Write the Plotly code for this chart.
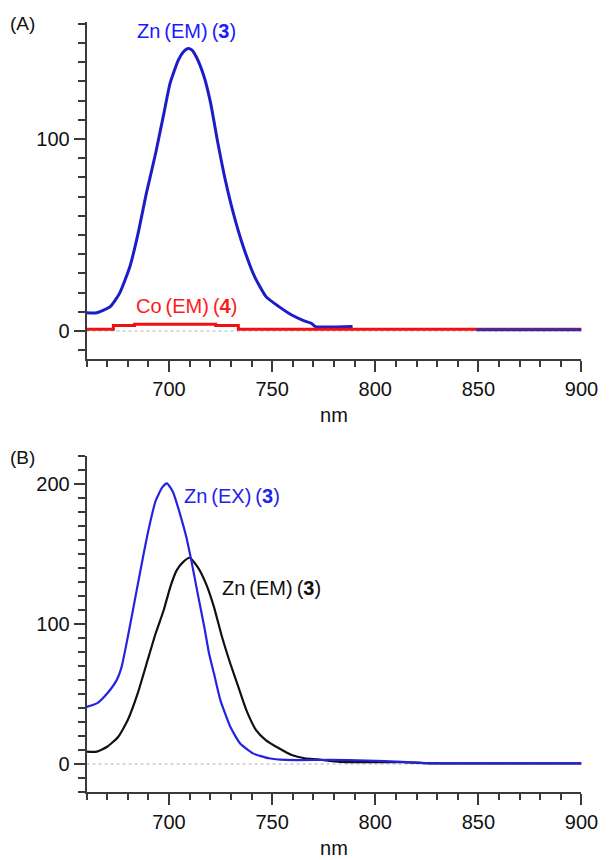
import plotly.graph_objects as go

# ---------------- data ----------------
# Panel (A)
a_zn_em_nm = [660, 665, 671.5, 676, 681, 685, 689, 693.5, 697.5, 700.5, 704.5, 707, 709.2, 711,
              713.2, 717, 720.2, 723.4, 727.3, 731.2, 736, 741.5, 747, 753.3, 759.5, 765, 769,
              771, 789]
a_zn_em_val = [9.5, 9.5, 12.7, 19.6, 33.5, 50.9, 71.7, 92.6, 113.4, 129, 141.1, 145.5, 147.2, 146.5,
               142.9, 132.5, 118.6, 99.5, 78.6, 61.3, 43.9, 28.3, 17.9, 12.7, 8.3, 5.5, 4,
               2.3, 2.3]
a_zn_tail_nm = [849, 900]
a_zn_tail_val = [0.6, 0.6]

a_co_em_nm = [660, 673, 683.3, 722.6, 733.6, 900]
a_co_em_val = [0.9, 2.8, 3.5, 2.8, 0.9, 0.9]

# Panel (B)
b_zn_ex_nm = [660, 665, 670, 674.6, 677, 680, 684, 688, 690.3, 693.5, 696.7, 699, 702, 705.3,
              708.4, 710.8, 713.9, 717.1, 719.4, 721.8, 724.9, 729.7, 734.4, 740.7, 748.5,
              756.4, 778, 796, 813, 826, 900]
b_zn_ex_val = [40.8, 43.3, 50.4, 59.9, 69.4, 90.7, 121.7, 152.5, 169, 188, 197.6, 200.5, 194, 178.7,
               162, 145.4, 121.7, 97.9, 78.9, 64.6, 45.6, 26.6, 14.8, 7.6, 4.1,
               2.9, 2.9, 2.5, 1.5, 0.6, 0.5]

b_zn_em_nm = [660, 665, 670, 675.4, 680, 684.8, 689.6, 693.5, 697.4, 700.6, 703.7, 706.8, 710,
              713.9, 717.9, 721.8, 725.7, 729.7, 733.6, 737.5, 742.2, 746.9, 753.3, 759.5,
              765.8, 772, 783, 813, 826, 900]
b_zn_em_val = [8.8, 8.8, 12.3, 19.5, 31.4, 50.4, 74.1, 93.2, 109.8, 126.4, 138.3, 144.2, 147.3,
               140.6, 128.8, 112.1, 90.7, 71.8, 55.1, 38.5, 24.2, 17.1, 11.2, 6.4,
               4.1, 3.3, 1.5, 1.3, 0.5, 0.4]

x_range = [660, 900]
a_y_range = [-14.6, 161]
b_y_range = [-20, 220]

# ---------------- styling ----------------
W, H = 616, 860
FONT = "Liberation Sans, Arial, sans-serif"
AXC = "#3a3a3a"
BLUE_A = "#1c1cc8"
BLUE_B = "#2424e0"
RED = "#ee1111"
BLACK = "#111111"

def px_x(p):
    return p / W

def px_y(p):
    return 1 - p / H

x_dom = [px_x(89), px_x(598)]
a_y_dom = [px_y(359), px_y(22)]
b_y_dom = [px_y(792), px_y(456)]

fig = go.Figure()

fig.add_trace(go.Scatter(x=a_zn_em_nm, y=a_zn_em_val, mode="lines", xaxis="x", yaxis="y",
                         line=dict(color=BLUE_A, width=3, shape="spline", smoothing=0.5),
                         name="Zn(EM)(3)", showlegend=False))
fig.add_trace(go.Scatter(x=a_co_em_nm, y=a_co_em_val, mode="lines", xaxis="x", yaxis="y",
                         line=dict(color=RED, width=3, shape="hv"), name="Co(EM)(4)", showlegend=False))
fig.add_trace(go.Scatter(x=a_zn_tail_nm, y=a_zn_tail_val, mode="lines", xaxis="x", yaxis="y",
                         line=dict(color="#3a2a9a", width=3), name="Zn(EM)(3)", showlegend=False))

fig.add_trace(go.Scatter(x=b_zn_em_nm, y=b_zn_em_val, mode="lines", xaxis="x2", yaxis="y2",
                         line=dict(color=BLACK, width=2.2, shape="spline", smoothing=0.5),
                         name="Zn(EM)(3)", showlegend=False))
fig.add_trace(go.Scatter(x=b_zn_ex_nm, y=b_zn_ex_val, mode="lines", xaxis="x2", yaxis="y2",
                         line=dict(color=BLUE_B, width=2.2, shape="spline", smoothing=0.5),
                         name="Zn(EX)(3)", showlegend=False))

def xaxis(dom, anchor):
    return dict(domain=dom, anchor=anchor, range=x_range, showgrid=False, zeroline=False,
                showline=True, linecolor=AXC, linewidth=1.6,
                ticks="outside", ticklen=11, tickwidth=1.6, tickcolor=AXC,
                tick0=700, dtick=50,
                minor=dict(dtick=10, tick0=660, ticks="outside", ticklen=6, tickwidth=1.6, tickcolor=AXC),
                tickfont=dict(family=FONT, size=20, color="#111"),
                title=dict(text="nm", font=dict(family=FONT, size=20, color="#111"), standoff=9),
                fixedrange=True)

def yaxis(dom, anchor, rng):
    return dict(domain=dom, anchor=anchor, range=rng, showgrid=False, zeroline=False,
                showline=True, linecolor=AXC, linewidth=1.6,
                ticks="outside", ticklen=11, tickwidth=1.6, tickcolor=AXC,
                tick0=0, dtick=100,
                minor=dict(dtick=10, tick0=0, ticks="outside", ticklen=7, tickwidth=1.6, tickcolor=AXC),
                tickfont=dict(family=FONT, size=20, color="#111"),
                fixedrange=True)

fig.update_layout(
    width=W, height=H,
    margin=dict(l=0, r=0, t=0, b=0, pad=0),
    paper_bgcolor="white", plot_bgcolor="white",
    xaxis=xaxis(x_dom, "y"),
    yaxis=yaxis(a_y_dom, "x", a_y_range),
    xaxis2=xaxis(x_dom, "y2"),
    yaxis2=yaxis(b_y_dom, "x2", b_y_range),
    showlegend=False,
)

# dashed zero lines
for xr, yr in (("x", "y"), ("x2", "y2")):
    fig.add_shape(type="line", xref=xr, yref=yr, x0=x_range[0], x1=x_range[1], y0=0, y1=0,
                  line=dict(color="#b0b0b0", width=1.2, dash="dot"), layer="below")

def ann(text, xp, yp, color, size=20):
    fig.add_annotation(text=text, x=px_x(xp), y=px_y(yp), xref="paper", yref="paper",
                       showarrow=False, xanchor="center", yanchor="middle",
                       font=dict(family=FONT, size=size, color=color))

ann("(A)", 23, 23, "#111", 19)
ann("(B)", 23, 457, "#111", 19)
ann("Zn\u2009(EM)\u2009(<b>3</b>)", 192, 31, "#1a1aff")
ann("Co\u2009(EM)\u2009(<b>4</b>)", 192, 306, "#ff1a1a")
ann("Zn\u2009(EX)\u2009(<b>3</b>)", 239, 496, "#2222ee")
ann("Zn\u2009(EM)\u2009(<b>3</b>)", 279, 588, "#111")

fig.write_html("out.html")
